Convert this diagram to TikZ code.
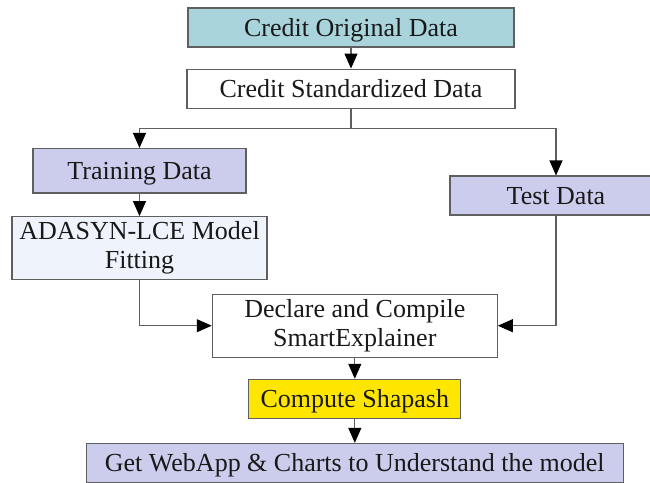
\documentclass[tikz,border=0pt]{standalone}
\usepackage{fontspec}
\setmainfont{Liberation Serif}
\usetikzlibrary{positioning, arrows.meta, calc}

\definecolor{origfill}{RGB}{170,212,220}
\definecolor{setfill}{RGB}{204,204,236}
\definecolor{fitfill}{RGB}{239,244,252}
\definecolor{shapfill}{RGB}{255,230,0}
\definecolor{edgegray}{RGB}{95,95,95}

\begin{document}
\begin{tikzpicture}[
	x=1pt, y=-1pt, % pixel-like units, y grows downwards
	>={Triangle[length=15pt, width=13pt, color=black]},
	% Style for the processing boxes
	stage/.style={
		rectangle,
		draw=edgegray,
		line width=1.1pt,
		inner sep=0pt,
		align=center,
		text=black!90,
		font=\fontsize{26}{29}\selectfont
	},
	% Single-line boxes: fix the text box so the baseline sits a bit lower
	oneline/.style={
		stage,
		text height=23pt,
		text depth=5pt
	},
	% Style for the connectors
	flow/.style={
		->,
		draw=edgegray,
		line width=1.1pt
	}
	]
	
	\clip (0,0) rectangle (650,482);
	
	% --- NODES ---
	
	% Data preparation
	\node[oneline, fill=origfill, minimum width=326pt, minimum height=39pt] (orig) at (351,27.5) {Credit Original Data};
	\node[oneline, fill=white, minimum width=328pt, minimum height=39pt, below=21pt of orig] (std) {Credit Standardized Data};
	
	% Split
	\node[oneline, fill=setfill, minimum width=213pt, minimum height=44.5pt] (train) at (139.5,170.75) {Training Data};
	\node[oneline, fill=setfill, minimum width=212pt, minimum height=39pt] (test) at (556,195.5) {Test Data};
	\node[stage, fill=fitfill, minimum width=255pt, minimum height=63.3pt, below=22.5pt of train] (fit) {ADASYN-LCE Model\\Fitting};
	
	% Explanation
	\node[stage, fill=white, minimum width=285pt, minimum height=63pt] (explainer) at (354.8,325.7) {Declare and Compile\\SmartExplainer};
	\node[oneline, fill=shapfill, minimum width=212pt, minimum height=39pt, below=21pt of explainer] (shapash) {Compute Shapash};
	\node[oneline, fill=setfill, minimum width=537pt, minimum height=39pt, below=24pt of shapash] (webapp) {Get WebApp \& Charts to Understand the model};
	
	% --- EDGES ---
	
	\draw[flow] (orig) -- (std);
	
	\coordinate (split) at ($(std.south)+(0,20)$);
	\draw[edgegray, line width=1.1pt] (std.south) -- (split);
	\draw[flow] (split) -| (train);
	\draw[flow] (split) -| (test);
	
	\draw[flow] (train) -- (fit);
	\draw[flow] (fit) |- (explainer);
	\draw[flow] (test) |- (explainer);
	
	\draw[flow] (explainer) -- (shapash);
	\draw[flow] (shapash) -- (webapp);
	
\end{tikzpicture}
\end{document}
